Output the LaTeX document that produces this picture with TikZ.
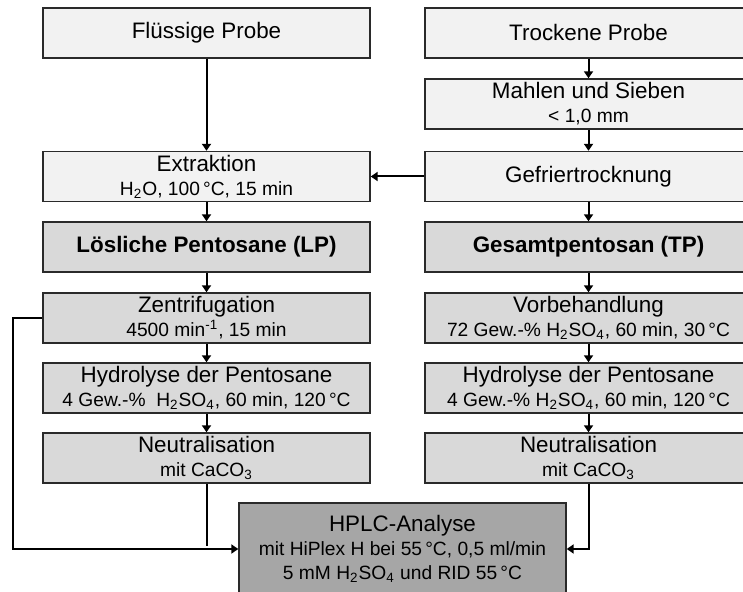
\documentclass[tikz,border=0pt]{standalone}
\usepackage{fontspec}
\setmainfont{Liberation Sans}
\usetikzlibrary{arrows.meta}

\definecolor{rahmen}{HTML}{2A2A2A}
\definecolor{hellgrau}{HTML}{F2F2F2}
\definecolor{mittelgrau}{HTML}{D9D9D9}
\definecolor{dunkelgrau}{HTML}{A6A6A6}

\newcommand{\gross}{\fontsize{11.2}{12.5}\selectfont}
\newcommand{\klein}{\fontsize{9.6}{11}\selectfont}

\begin{document}
\begin{tikzpicture}[x=0.5pt, y=-0.5pt,
    kasten/.style={draw=rahmen, line width=0.7pt, minimum width=163.5pt, minimum height=25pt,
                   inner sep=0pt, align=center, font=\gross},
    hell/.style={kasten, fill=hellgrau},
    mittel/.style={kasten, fill=mittelgrau},
    dunkel/.style={kasten, fill=dunkelgrau, minimum height=46pt},
    pfeil/.style={line width=1pt, -{Triangle[width=4.5pt,length=3.5pt]}}]
        \useasboundingbox (0,0) rectangle (743,592);
        \clip (0,0) rectangle (743,592);
        % linke Spalte
        \node[hell] (fluessig) at (206.5,33) {Flüssige Probe};
        \node[hell] (extraktion) at (206.5,176.5) {Extraktion\\[-0.5pt]{\klein H\textsubscript{2}O, 100\,°C, 15 min}};
        \node[mittel] (lp) at (206.5,247) {\bfseries Lösliche Pentosane (LP)};
        \node[mittel] (zentri) at (206.5,318) {Zentrifugation\\[-0.5pt]{\klein 4500 min\textsuperscript{-1}, 15 min}};
        \node[mittel] (hydroL) at (206.5,388) {Hydrolyse der Pentosane\\[-0.5pt]{\klein 4 Gew.-\%~ H\textsubscript{2}SO\textsubscript{4}, 60 min, 120\,°C}};
        \node[mittel] (neutrL) at (206.5,458) {Neutralisation\\[-0.5pt]{\klein mit CaCO\textsubscript{3}}};
        % rechte Spalte
        \node[hell] (trocken) at (588.5,33) {Trockene Probe};
        \node[hell] (mahlen) at (588.5,104) {Mahlen und Sieben\\[-0.5pt]{\klein < 1,0 mm}};
        \node[hell] (gefrier) at (588.5,176.5) {Gefriertrocknung};
        \node[mittel] (tp) at (588.5,247) {\bfseries Gesamtpentosan (TP)};
        \node[mittel] (vorbeh) at (588.5,318) {Vorbehandlung\\[-0.5pt]{\klein 72 Gew.-\% H\textsubscript{2}SO\textsubscript{4}, 60 min, 30\,°C}};
        \node[mittel] (hydroR) at (588.5,388) {Hydrolyse der Pentosane\\[-0.5pt]{\klein 4 Gew.-\% H\textsubscript{2}SO\textsubscript{4}, 60 min, 120\,°C}};
        \node[mittel] (neutrR) at (588.5,458) {Neutralisation\\[-0.5pt]{\klein mit CaCO\textsubscript{3}}};
        % Analyse
        \node[dunkel] (hplc) at (402.5,549) {HPLC-Analyse\\[-0.5pt]{\klein mit HiPlex H bei 55\,°C, 0,5 ml/min}\\[-0.5pt]{\klein 5 mM H\textsubscript{2}SO\textsubscript{4} und RID 55\,°C}};

        \draw[pfeil] (fluessig) -- (extraktion);
        \draw[pfeil] (trocken) -- (mahlen);
        \draw[pfeil] (mahlen) -- (gefrier);
        \draw[pfeil] (gefrier) -- (extraktion);
        \draw[pfeil] (extraktion) -- (lp);
        \draw[pfeil] (gefrier) -- (tp);
        \draw[pfeil] (lp) -- (zentri);
        \draw[pfeil] (tp) -- (vorbeh);
        \draw[pfeil] (zentri) -- (hydroL);
        \draw[pfeil] (vorbeh) -- (hydroR);
        \draw[pfeil] (hydroL) -- (neutrL);
        \draw[pfeil] (hydroR) -- (neutrR);
        \draw[pfeil] (neutrR.south) |- (hplc.east);
        \draw[pfeil] (zentri.west) -- ++(-29,0) |- (hplc.west);
        \draw[line width=1pt, shorten >=1.5pt] (neutrL.south) -- (neutrL.south |- hplc.west);
\end{tikzpicture}
\end{document}
